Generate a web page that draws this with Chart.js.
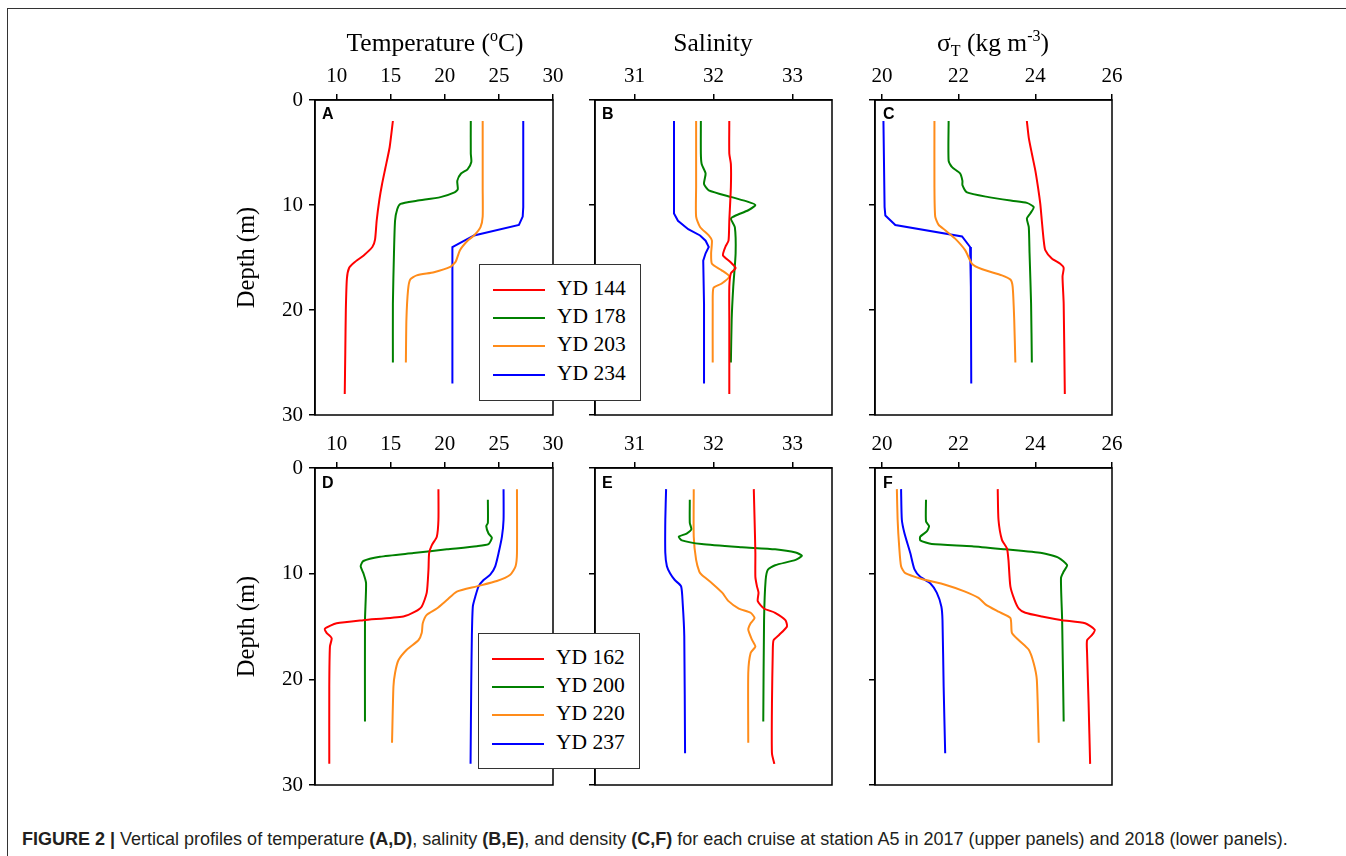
<!DOCTYPE html>
<html>
<head>
<meta charset="utf-8">
<script src="https://cdn.jsdelivr.net/npm/chart.js@4.4.1/dist/chart.umd.min.js"></script>
<style>
  body { margin: 0; background: #fff; }
  #page { position: relative; width: 1346px; height: 856px; overflow: hidden; background: #fff; }
  #frame { position: absolute; left: 7px; top: 8px; width: 1400px; height: 900px; border-top: 1.5px solid #333; border-left: 1.5px solid #333; }
  canvas { position: absolute; }
  .coltitle { position: absolute; font-family: 'Liberation Serif', serif; font-size: 25.5px; line-height: 1; color: #000; white-space: nowrap; transform: translateX(-50%); }
  .coltitle sup { font-size: 16px; vertical-align: 10px; line-height: 0; }
  .coltitle sub { font-size: 16px; vertical-align: -5px; line-height: 0; }
  .letter { position: absolute; font-family: 'Liberation Sans', Arial, sans-serif; font-weight: bold; font-size: 16px; line-height: 1; color: #000; }
  .legend { position: absolute; background: #fff; border: 1.5px solid #333; box-sizing: border-box; z-index: 5; }
  .legend .ln { position: absolute; left: 13px; width: 52px; height: 2px; }
  .legend .tx { position: absolute; left: 77px; font-family: 'Liberation Serif', serif; font-size: 21.5px; line-height: 1; color: #000; }
  #caption { position: absolute; left: 22px; top: 830px; font-family: 'Liberation Sans', Arial, sans-serif; font-size: 18px; line-height: 1; color: #231f20; white-space: nowrap; }
</style>
</head>
<body>
<div id="page">
  <div id="frame"></div>

  <canvas id="cA" width="353" height="424" style="left:220px; top:10px"></canvas>
  <canvas id="cB" width="297" height="424" style="left:555px; top:10px"></canvas>
  <canvas id="cC" width="297" height="424" style="left:835px; top:10px"></canvas>
  <canvas id="cD" width="353" height="426" style="left:220px; top:378px"></canvas>
  <canvas id="cE" width="297" height="426" style="left:555px; top:378px"></canvas>
  <canvas id="cF" width="297" height="426" style="left:835px; top:378px"></canvas>

  <div class="coltitle" style="left:435px; top:30px">Temperature (<sup>o</sup>C)</div>
  <div class="coltitle" style="left:713px; top:30px">Salinity</div>
  <div class="coltitle" style="left:993px; top:30px">&sigma;<sub>T</sub> (kg m<sup>-3</sup>)</div>

  <div class="letter" style="left:322px; top:106px">A</div>
  <div class="letter" style="left:602px; top:106px">B</div>
  <div class="letter" style="left:883px; top:106px">C</div>
  <div class="letter" style="left:322px; top:475px">D</div>
  <div class="letter" style="left:602px; top:475px">E</div>
  <div class="letter" style="left:883px; top:475px">F</div>

  <div class="legend" id="legTop" style="left:479px; top:264px; width:162px; height:137px"></div>
  <div class="legend" id="legBottom" style="left:478px; top:633px; width:162px; height:136px"></div>

  <div id="caption"><b>FIGURE 2 |</b> Vertical profiles of temperature <b>(A,D)</b>, salinity <b>(B,E)</b>, and density <b>(C,F)</b> for each cruise at station A5 in 2017 (upper panels) and 2018 (lower panels).</div>
</div>

<script>
// cruise names (year day) and line colours
const cruises2017 = ['YD 144', 'YD 178', 'YD 203', 'YD 234'];
const cruises2018 = ['YD 162', 'YD 200', 'YD 220', 'YD 237'];
const colors = ['#ff0000', '#008000', '#ff8c1a', '#0000ff'];

// tick labels
const tempTicks = [10, 15, 20, 25, 30];
const salTicks = [31, 32, 33];
const sigmaTicks = [20, 22, 24, 26];
const depthTicks = [0, 10, 20, 30];

// profiles, each point is [depth (m), value]
// 2017 temperature
const tempYD144 = [[2,15.2],[4.5,14.9],[6.5,14.5],[8,14.2],[9.5,13.95],[11.5,13.7],[13.3,13.55],[14,13.3],[14.8,12.5],[15.5,11.6],[16,11.15],[17,10.95],[20,10.85],[24,10.8],[28,10.75]];
const tempYD178 = [[2,22.4],[5.1,22.4],[5.9,22.45],[6.6,22.1],[7,21.5],[7.7,21.15],[8.5,21.2],[8.8,20.9],[9.25,19.6],[9.6,17.4],[9.9,15.9],[10.4,15.6],[11.5,15.4],[14.6,15.3],[19.4,15.2],[25,15.2]];
const tempYD203 = [[2,23.5],[8.3,23.5],[11.1,23.5],[12.1,23.3],[12.9,22.7],[13.4,22.1],[14.3,21.4],[15.4,21.0],[15.9,20.5],[16.4,19.0],[16.7,17.4],[17.1,16.8],[18.1,16.6],[20.9,16.45],[25,16.4]];
const tempYD234 = [[2,27.25],[10.2,27.25],[11.1,27.2],[11.9,26.85],[12.9,22.7],[14,20.7],[17.8,20.7],[27,20.7]];
// 2017 salinity
const salYD144 = [[2,32.2],[5.1,32.2],[6.1,32.22],[8.3,32.22],[11.5,32.2],[13.4,32.19],[14,32.15],[14.8,32.12],[15.4,32.21],[16,32.28],[16.5,32.22],[17.8,32.2],[20.9,32.2],[28,32.2]];
const salYD178 = [[2,31.84],[5.1,31.84],[6.1,31.85],[7,31.9],[8,31.88],[8.6,31.94],[9.25,32.23],[9.7,32.44],[10,32.53],[10.5,32.44],[11,32.28],[11.3,32.22],[12.1,32.27],[14.6,32.28],[17.8,32.25],[20.9,32.23],[25,32.22]];
const salYD203 = [[2,31.78],[8.3,31.78],[11.1,31.78],[12.1,31.83],[12.9,31.94],[13.4,31.98],[14.6,31.97],[15.6,31.98],[16.2,32.1],[16.8,32.2],[17.5,32.1],[17.9,32.0],[19.4,31.99],[25,31.99]];
const salYD234 = [[2,31.5],[10.8,31.5],[11.5,31.55],[12.3,31.68],[12.9,31.83],[13.4,31.9],[14,31.94],[14.6,31.9],[15.3,31.87],[19.4,31.88],[27,31.88]];
// 2017 sigma-t
const sigYD144 = [[2,23.78],[3.6,23.83],[5.1,23.91],[6.7,24.0],[8.3,24.07],[9.9,24.13],[11.5,24.17],[13.4,24.22],[14.3,24.26],[15.1,24.43],[15.6,24.65],[16,24.74],[16.8,24.71],[19.4,24.74],[28,24.77]];
const sigYD178 = [[2,21.74],[5.8,21.74],[6.4,21.83],[7,22.04],[7.7,22.1],[8.1,22.1],[8.8,22.22],[9.25,22.78],[9.6,23.39],[9.8,23.78],[10.2,23.96],[10.8,23.87],[11.3,23.78],[12.1,23.83],[14.6,23.85],[19.4,23.89],[25,23.91]];
const sigYD203 = [[2,21.37],[8.3,21.37],[11.1,21.39],[11.9,21.48],[12.4,21.65],[13.2,21.91],[14.3,22.17],[15.6,22.35],[16.1,22.6],[16.7,23.13],[17.1,23.35],[17.8,23.41],[20.9,23.45],[25,23.48]];
const sigYD234 = [[2,20.04],[10.2,20.07],[11,20.09],[11.9,20.35],[13,22.09],[14,22.3],[17.8,22.32],[27,22.33]];
// 2018 temperature
const tempYD162 = [[2,19.41],[4.9,19.41],[6.5,19.26],[7.3,18.8],[8.05,18.55],[9.6,18.49],[11.8,18.33],[13.1,17.87],[13.6,17.25],[14.05,16.17],[14.4,12.47],[14.7,10.0],[15.2,8.92],[15.6,9.07],[16.1,9.54],[16.9,9.38],[20.7,9.32],[28,9.32]];
const tempYD200 = [[3,23.98],[5.2,23.98],[5.5,23.83],[6.2,24.04],[6.6,24.35],[7.2,24.04],[7.4,22.96],[7.7,20.19],[8.05,17.1],[8.4,14.0],[8.8,12.47],[9.3,12.22],[9.95,12.47],[10.9,12.72],[14.4,12.62],[24,12.62]];
const tempYD220 = [[2,26.67],[8.05,26.67],[9.3,26.54],[10.1,26.05],[10.7,24.81],[11.2,22.96],[11.7,21.11],[12.5,20.19],[13.3,19.26],[13.9,18.33],[14.7,17.96],[15.6,17.87],[16.3,17.56],[17.2,16.48],[18.2,15.71],[19.4,15.4],[20.7,15.25],[26,15.12]];
const tempYD237 = [[2,25.43],[4.9,25.43],[6.5,25.28],[8.05,24.97],[9.3,24.66],[10.1,24.2],[10.6,23.58],[11.2,23.12],[12.2,22.81],[13.1,22.59],[15.9,22.5],[20.7,22.44],[28,22.38]];
// 2018 salinity
const salYD162 = [[2,32.51],[4.9,32.52],[8.05,32.53],[10.3,32.53],[11.2,32.55],[11.8,32.57],[12.6,32.56],[13.3,32.64],[13.7,32.78],[14.4,32.91],[15,32.93],[15.8,32.83],[16.3,32.76],[17.5,32.75],[22.3,32.74],[27,32.74],[28,32.77]];
const salYD200 = [[3,31.7],[5.2,31.7],[5.8,31.72],[6.2,31.66],[6.5,31.56],[6.85,31.6],[7.2,31.85],[7.5,32.36],[7.7,32.78],[8,33.04],[8.3,33.12],[8.7,33.04],[9.2,32.78],[9.6,32.69],[10.6,32.66],[14.4,32.64],[24,32.63]];
const salYD220 = [[2,31.75],[6.5,31.75],[8.7,31.78],[9.8,31.82],[10.1,31.85],[10.9,31.98],[11.8,32.11],[12.6,32.19],[13.3,32.32],[13.7,32.47],[14.2,32.52],[14.7,32.47],[15.3,32.44],[16.3,32.49],[16.9,32.53],[17.5,32.47],[19.4,32.44],[26,32.44]];
const salYD237 = [[2,31.4],[4.9,31.39],[8.05,31.39],[9.3,31.41],[9.95,31.45],[10.6,31.51],[11.2,31.59],[12.8,31.61],[15.9,31.63],[27,31.64]];
// 2018 sigma-t
const sigYD162 = [[2,23.02],[4.9,23.04],[6.8,23.13],[7.6,23.26],[8.7,23.3],[11.2,23.35],[12.5,23.46],[13.3,23.57],[13.7,23.74],[14.05,24.17],[14.4,24.7],[14.7,25.3],[15.3,25.55],[15.8,25.48],[16.3,25.35],[17.5,25.35],[22.3,25.39],[28,25.43]];
const sigYD200 = [[3,21.15],[5.05,21.15],[5.5,21.23],[6,21.17],[6.5,21.0],[6.85,21.0],[7.2,21.3],[7.4,22.35],[7.7,23.22],[8.05,24.17],[8.5,24.61],[9.2,24.83],[9.8,24.74],[10.4,24.67],[14.4,24.7],[24,24.74]];
const sigYD220 = [[2,20.39],[4.9,20.41],[7.4,20.45],[9.3,20.5],[9.95,20.61],[10.5,21.04],[11.05,21.65],[11.7,22.17],[12.3,22.52],[12.9,22.7],[13.6,23.04],[14.2,23.35],[15.6,23.39],[16.3,23.57],[17.2,23.83],[18.5,23.96],[20.05,24.04],[26,24.09]];
const sigYD237 = [[2,20.5],[4.9,20.52],[6.2,20.59],[8.05,20.74],[9.6,20.85],[10.3,21.0],[10.9,21.26],[11.8,21.43],[13.1,21.55],[14.4,21.58],[20.7,21.61],[27,21.65]];

const serif = 'Liberation Serif';

// draws the black box around each plot area
const framePlugin = {
  id: 'frame',
  afterDraw(chart) {
    const a = chart.chartArea;
    const ctx = chart.ctx;
    ctx.save();
    ctx.strokeStyle = '#000';
    ctx.lineWidth = 1.5;
    ctx.strokeRect(a.left, a.top, a.right - a.left, a.bottom - a.top);
    ctx.restore();
  }
};

function makePanel(id, profiles, names, xMin, xMax, xTicks, yWidth, withDepthLabels) {
  var datasets = profiles.map(function(p, i) {
    return {
      label: names[i],
      data: p.map(function(d) { return { x: d[1], y: d[0] }; }),
      borderColor: colors[i],
      borderWidth: 2,
      pointRadius: 0,
      showLine: true,
      fill: false,
      tension: i === 3 && names === cruises2017 ? 0 : 0.2
    };
  });

  var ctx = document.getElementById(id).getContext('2d');
  return new Chart(ctx, {
    type: 'scatter',
    data: { datasets: datasets },
    options: {
      responsive: false,
      animation: false,
      devicePixelRatio: 1,
      // same bottom gap as the one the depth labels force on A and D
      layout: { padding: { right: 20, bottom: 19 } },
      plugins: { legend: { display: false }, tooltip: { enabled: false } },
      scales: {
        x: {
          type: 'linear',
          position: 'top',
          min: xMin,
          max: xMax,
          afterBuildTicks: function(s) { s.ticks = xTicks.map(function(v) { return { value: v }; }); },
          afterFit: function(s) { s.height = 90; },
          grid: { display: true, drawOnChartArea: false, drawTicks: true, tickLength: 6, color: '#000', lineWidth: 1.5 },
          border: { display: true, color: '#000', width: 1.5 },
          ticks: { color: '#000', padding: 5, maxRotation: 0, font: { family: serif, size: 21 } }
        },
        y: {
          type: 'linear',
          reverse: true,
          min: 0,
          max: 30,
          afterBuildTicks: function(s) { s.ticks = depthTicks.map(function(v) { return { value: v }; }); },
          afterFit: function(s) { s.width = yWidth; },
          grid: { display: true, drawOnChartArea: false, drawTicks: true, tickLength: 6, color: '#000', lineWidth: 1.5 },
          border: { display: true, color: '#000', width: 1.5 },
          ticks: { display: withDepthLabels, color: '#000', padding: 6, font: { family: serif, size: 21 } },
          title: {
            display: withDepthLabels,
            text: 'Depth (m)',
            color: '#000',
            font: { family: serif, size: 24.5 },
            padding: { top: 13 }
          }
        }
      }
    },
    plugins: [framePlugin]
  });
}

makePanel('cA', [tempYD144, tempYD178, tempYD203, tempYD234], cruises2017, 8, 30, tempTicks, 95, true);
makePanel('cB', [salYD144, salYD178, salYD203, salYD234], cruises2017, 30.5, 33.5, salTicks, 40, false);
makePanel('cC', [sigYD144, sigYD178, sigYD203, sigYD234], cruises2017, 19.82, 26, sigmaTicks, 40, false);
makePanel('cD', [tempYD162, tempYD200, tempYD220, tempYD237], cruises2018, 8, 30, tempTicks, 95, true);
makePanel('cE', [salYD162, salYD200, salYD220, salYD237], cruises2018, 30.5, 33.5, salTicks, 40, false);
makePanel('cF', [sigYD162, sigYD200, sigYD220, sigYD237], cruises2018, 19.82, 26, sigmaTicks, 40, false);

// legend boxes that sit between the temperature and salinity panels
function fillLegend(boxId, names) {
  var box = document.getElementById(boxId);
  names.forEach(function(n, i) {
    var cy = 25 + i * 28.2;
    var ln = document.createElement('div');
    ln.className = 'ln';
    ln.style.top = (cy - 1) + 'px';
    ln.style.background = colors[i];
    box.appendChild(ln);
    var tx = document.createElement('div');
    tx.className = 'tx';
    tx.style.top = (cy - 12) + 'px';
    tx.textContent = n;
    box.appendChild(tx);
  });
}
fillLegend('legTop', cruises2017);
fillLegend('legBottom', cruises2018);
</script>
</body>
</html>
